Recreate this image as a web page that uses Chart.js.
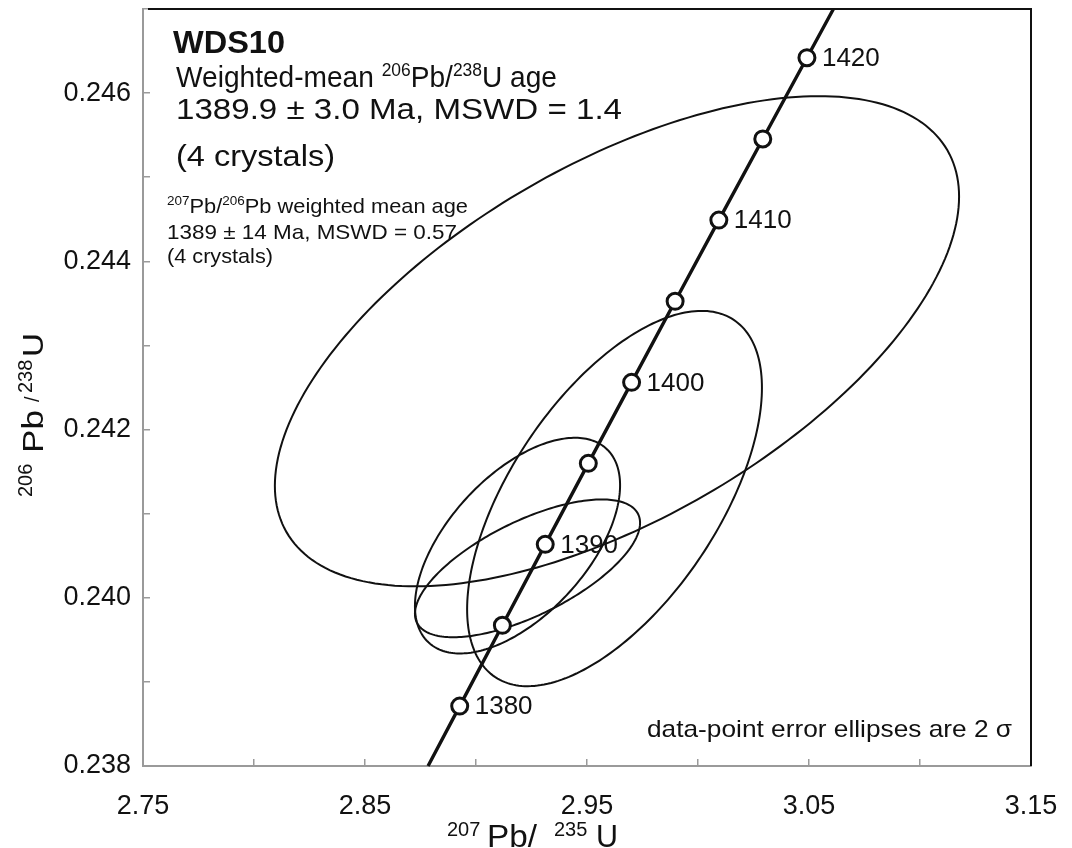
<!DOCTYPE html>
<html>
<head>
<meta charset="utf-8">
<script src="https://cdn.jsdelivr.net/npm/chart.js@4/dist/chart.umd.min.js"></script>
<style>
  html, body { margin: 0; padding: 0; background: #fff; }
  canvas { display: block; }
</style>
</head>
<body>
<canvas id="concordia" width="1072" height="848"></canvas>
<script>
// concordia ages (Ma) with their 207Pb/235U and 206Pb/238U ratios
const concordiaAges = [1380, 1385, 1390, 1395, 1400, 1405, 1410, 1415, 1420];
const concordiaX = [2.89266, 2.91188, 2.93119, 2.95059, 2.97009, 2.98969, 3.00939, 3.02918, 3.04907];
const concordiaY = [0.238712, 0.239673, 0.240635, 0.241598, 0.242561, 0.243525, 0.244490, 0.245455, 0.246421];
// where the curve leaves the plot at the bottom and top
const curveStart = [2.8784, 0.238];
const curveEnd = [3.0610, 0.247];

// data-point error ellipses (2 sigma)
const ellipseX = [2.9635, 2.9624, 2.9187, 2.9232];
const ellipseY = [0.24305, 0.24118, 0.24062, 0.24035];
const ellipseSx = [0.1541, 0.0664, 0.0462, 0.0507];
const ellipseSy = [0.002914, 0.002231, 0.001282, 0.000819];
const ellipseRho = [0.59, 0.59, 0.56, 0.66];

const xTickLabels = ["2.75", "2.85", "2.95", "3.05", "3.15"];
const yTickLabels = ["0.238", "0.240", "0.242", "0.244", "0.246"];

const FONT = '"Liberation Sans", Arial, Helvetica, sans-serif';
const INK = "#111";
const AXIS_GREY = "#9a9a9a";

function runFont(size, weight) {
  return `${weight || "normal"} ${size}px ${FONT}`;
}

// draws a line of mixed-size text (superscripts), optionally squeezed/stretched to a width
function drawRuns(ctx, x, y, runs, width) {
  let natural = 0;
  for (const [text, size, , weight] of runs) {
    ctx.font = runFont(size, weight);
    natural += ctx.measureText(text).width;
  }
  ctx.save();
  ctx.translate(x, y);
  if (width) ctx.scale(width / natural, 1);
  let cx = 0;
  for (const [text, size, rise, weight] of runs) {
    ctx.font = runFont(size, weight);
    ctx.fillText(text, cx, -(rise || 0));
    cx += ctx.measureText(text).width;
  }
  ctx.restore();
}

const ellipsePlugin = {
  id: "errorEllipses",
  beforeDatasetsDraw(chart) {
    const { ctx, scales: { x, y } } = chart;
    ctx.save();
    ctx.strokeStyle = INK;
    ctx.lineWidth = 2;
    for (let i = 0; i < ellipseX.length; i++) {
      const k = Math.sqrt(1 - ellipseRho[i] * ellipseRho[i]);
      ctx.beginPath();
      for (let s = 0; s <= 240; s++) {
        const t = (s / 240) * Math.PI * 2;
        const vx = ellipseX[i] + ellipseSx[i] * Math.cos(t);
        const vy = ellipseY[i] + ellipseSy[i] * (ellipseRho[i] * Math.cos(t) + k * Math.sin(t));
        const px = x.getPixelForValue(vx);
        const py = y.getPixelForValue(vy);
        if (s === 0) ctx.moveTo(px, py); else ctx.lineTo(px, py);
      }
      ctx.closePath();
      ctx.stroke();
    }
    ctx.restore();
  },
};

const annotationPlugin = {
  id: "annotations",
  afterDraw(chart) {
    const { ctx, chartArea, scales: { x, y } } = chart;
    ctx.save();

    // black frame on the top and right
    ctx.strokeStyle = INK;
    ctx.lineWidth = 2;
    ctx.beginPath();
    ctx.moveTo(chartArea.left + 5, chartArea.top);
    ctx.lineTo(chartArea.right, chartArea.top);
    ctx.lineTo(chartArea.right, chartArea.bottom);
    ctx.stroke();

    ctx.fillStyle = INK;
    ctx.textAlign = "left";

    // age labels beside every 10 Ma marker
    ctx.textBaseline = "middle";
    ctx.font = runFont(26);
    concordiaAges.forEach((age, i) => {
      if (age % 10 !== 0) return;
      ctx.fillText(String(age), x.getPixelForValue(concordiaX[i]) + 15, y.getPixelForValue(concordiaY[i]) + 1);
    });
    ctx.textBaseline = "alphabetic";

    // sample block
    drawRuns(ctx, 173, 53, [["WDS10", 31, 0, "bold"]], 112);
    drawRuns(ctx, 176, 87, [["Weighted-mean ", 29], ["206", 18, 11], ["Pb/", 29], ["238", 18, 11], ["U age", 29]], 381);
    drawRuns(ctx, 176, 119, [["1389.9 \u00b1 3.0 Ma, MSWD = 1.4", 30]], 446);
    drawRuns(ctx, 176, 166, [["(4 crystals)", 30]], 159);

    drawRuns(ctx, 167, 213, [["207", 13, 8], ["Pb/", 21], ["206", 13, 8], ["Pb weighted mean age", 21]], 301);
    drawRuns(ctx, 167, 239, [["1389 \u00b1 14 Ma, MSWD = 0.57", 21]], 290);
    drawRuns(ctx, 167, 263, [["(4 crystals)", 21]], 106);

    drawRuns(ctx, 647, 737, [["data-point error ellipses are 2 ", 24], ["\u03c3", 24]], 365);

    // x axis title
    drawRuns(ctx, 447, 847, [["207", 20, 11]]);
    drawRuns(ctx, 487, 847, [["Pb/", 31]], 50);
    drawRuns(ctx, 554, 847, [["235", 20, 11]]);
    drawRuns(ctx, 596, 847, [["U", 31]], 22);

    // y axis title, rotated
    ctx.translate(43, 497);
    ctx.rotate(-Math.PI / 2);
    drawRuns(ctx, 0, 0, [["206", 20, 11]]);
    drawRuns(ctx, 44, 0, [["Pb", 30]], 43);
    drawRuns(ctx, 95, 0, [["/", 20, 4]]);
    drawRuns(ctx, 104, 0, [["238", 20, 11]]);
    drawRuns(ctx, 140, 0, [["U", 30]], 24);

    ctx.restore();
  },
};

const curveData = [{ x: curveStart[0], y: curveStart[1] }]
  .concat(concordiaX.map((v, i) => ({ x: v, y: concordiaY[i] })))
  .concat([{ x: curveEnd[0], y: curveEnd[1] }]);
const markerRadius = curveData.map((p, i) => (i === 0 || i === curveData.length - 1 ? 0 : 8));

const tickFont = { family: FONT, size: 27 };

new Chart(document.getElementById("concordia"), {
  type: "scatter",
  data: {
    datasets: [
      {
        data: curveData,
        showLine: true,
        borderColor: INK,
        borderWidth: 3.4,
        pointRadius: markerRadius,
        pointBackgroundColor: "#fff",
        pointBorderColor: INK,
        pointBorderWidth: 3,
        clip: false,
      },
    ],
  },
  options: {
    responsive: false,
    animation: false,
    devicePixelRatio: 1,
    layout: { padding: { left: 0, top: 9, right: 41, bottom: 0 } },
    plugins: { legend: { display: false }, tooltip: { enabled: false } },
    scales: {
      x: {
        type: "linear",
        min: 2.75,
        max: 3.15,
        border: { color: AXIS_GREY, width: 2 },
        grid: { drawOnChartArea: false, tickLength: -7, color: AXIS_GREY, lineWidth: 1.5 },
        ticks: {
          stepSize: 0.05,
          autoSkip: false,
          maxRotation: 0,
          padding: 31,
          color: INK,
          font: tickFont,
          callback: (v) => xTickLabels.find((s) => Math.abs(parseFloat(s) - v) < 1e-6) || "",
        },
        afterFit(scale) {
          scale.height = 82;
          scale.paddingLeft = 0;
          scale.paddingRight = 0;
        },
      },
      y: {
        type: "linear",
        min: 0.238,
        max: 0.247,
        border: { color: AXIS_GREY, width: 2 },
        grid: { drawOnChartArea: false, tickLength: -7, color: AXIS_GREY, lineWidth: 1.5 },
        ticks: {
          stepSize: 0.001,
          autoSkip: false,
          padding: 19,
          color: INK,
          font: tickFont,
          callback: (v) => yTickLabels.find((s) => Math.abs(parseFloat(s) - v) < 1e-7) || "",
        },
        afterFit(scale) {
          scale.width = 143;
          scale.paddingTop = 0;
          scale.paddingBottom = 0;
        },
      },
    },
  },
  plugins: [ellipsePlugin, annotationPlugin],
});
</script>
</body>
</html>
